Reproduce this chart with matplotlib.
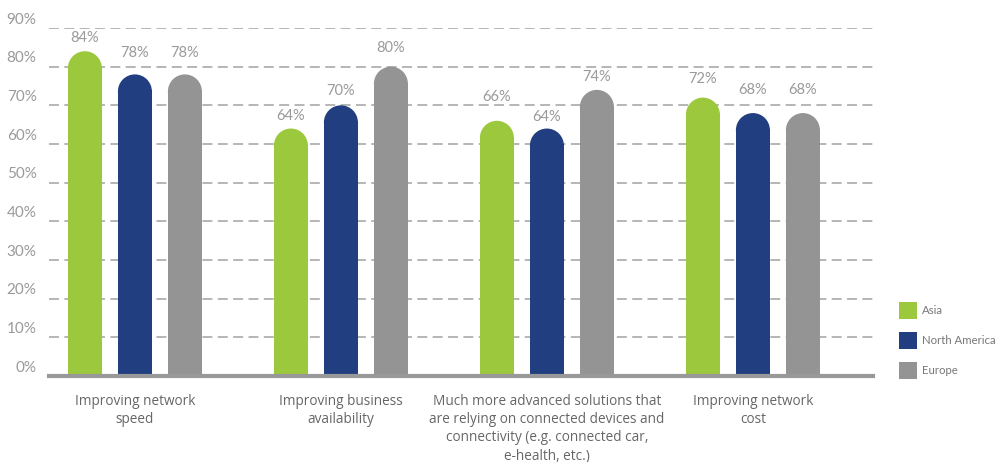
import matplotlib
matplotlib.use("Agg")
import matplotlib.pyplot as plt
from matplotlib.patches import Ellipse, Rectangle
from matplotlib.transforms import offset_copy
import numpy as np

# Survey data: share of respondents per region
categories = [
    "Improving network\nspeed",
    "Improving business\navailability",
    "Much more advanced solutions that\nare relying on connected devices and\nconnectivity (e.g. connected car,\ne-health, etc.)",
    "Improving network\ncost",
]
regions = ["Asia", "North America", "Europe"]
asia = [84, 64, 66, 72]
north_america = [78, 70, 64, 68]
europe = [78, 80, 74, 68]
yticks = [0, 10, 20, 30, 40, 50, 60, 70, 80, 90]

# vertical lift of each value label above its bar (pixels), kept clear of gridlines
label_lift = [
    [13, 12.5, 24, 18.5],
    [21, 14, 11.5, 23],
    [21, 18.5, 13, 23],
]

series = [asia, north_america, europe]
colors = ["#9BC83D", "#213F80", "#949494"]

W, H = 1000, 462
fig = plt.figure(figsize=(W / 100, H / 100), dpi=100)
ax = fig.add_axes([49 / W, 1 - 376 / H, (873 - 49) / W, (376 - 28) / H])

xlim = (-0.417, 3.583)
ylim = (0, 90)
ax.set_xlim(*xlim)
ax.set_ylim(*ylim)

# pixel scale used to keep the bar caps circular
ax_w_px = (873 - 49)
ax_h_px = (376 - 28)
px_per_x = ax_w_px / (xlim[1] - xlim[0])
px_per_y = ax_h_px / (ylim[1] - ylim[0])

bar_w = 34 / px_per_x
offsets = np.array([-50, 0, 50]) / px_per_x
cap_h = (bar_w * px_per_x / 2) / px_per_y  # cap radius in data units

x = np.arange(len(categories))
for vals, off, col, lifts in zip(series, offsets, colors, label_lift):
    vals = np.array(vals, dtype=float)
    ax.bar(x + off, vals - cap_h + 0.3, width=bar_w, color=col,
           linewidth=0, zorder=3)
    for xi, v, lift in zip(x + off, vals, lifts):
        ax.add_patch(Ellipse((xi, v - cap_h), bar_w, 2 * cap_h,
                             facecolor=col, edgecolor="none", zorder=3))
        ax.text(xi, v + lift / px_per_y, f"{int(v)}%", ha="center", va="center",
                fontsize=10.5, color="#9a9a9a", family="Lato", clip_on=False,
                zorder=5)

# dashed gridlines and solid baseline
for t in yticks[1:]:
    ax.axhline(t, color="#b0b0b0", lw=1.3, ls=(0, (5.5, 3)), zorder=1)
ax.axhline(0, color="#999999", lw=3, zorder=4, clip_on=False)

for s in ax.spines.values():
    s.set_visible(False)

ax.set_yticks(yticks)
ax.set_yticklabels([f"{t}%" for t in yticks], fontsize=11, color="#9a9a9a",
                   family="Lato")
ax.tick_params(axis="y", length=0, pad=9)
for lab in ax.get_yticklabels():
    lab.set_transform(offset_copy(lab.get_transform(), fig=fig, x=0, y=10, units="dots"))

ax.set_xticks([])
for xi, cat in zip(x, categories):
    ax.text(xi, -4.6, cat, ha="center", va="top", fontsize=9.8,
            color="#666666", family="Open Sans", linespacing=1.3,
            clip_on=False)

# legend: square swatches with labels
for i, (name, col) in enumerate(zip(regions, colors)):
    top = 302 + 30 * i
    fig.patches.append(Rectangle((899 / W, 1 - (top + 17) / H), 18 / W, 17 / H,
                                 transform=fig.transFigure, facecolor=col,
                                 edgecolor="none"))
    fig.text(922 / W, 1 - (top + 8.5) / H, name, ha="left", va="center",
             fontsize=8.2, color="#777777", family="Lato")

fig.savefig("out.png", dpi=100)
